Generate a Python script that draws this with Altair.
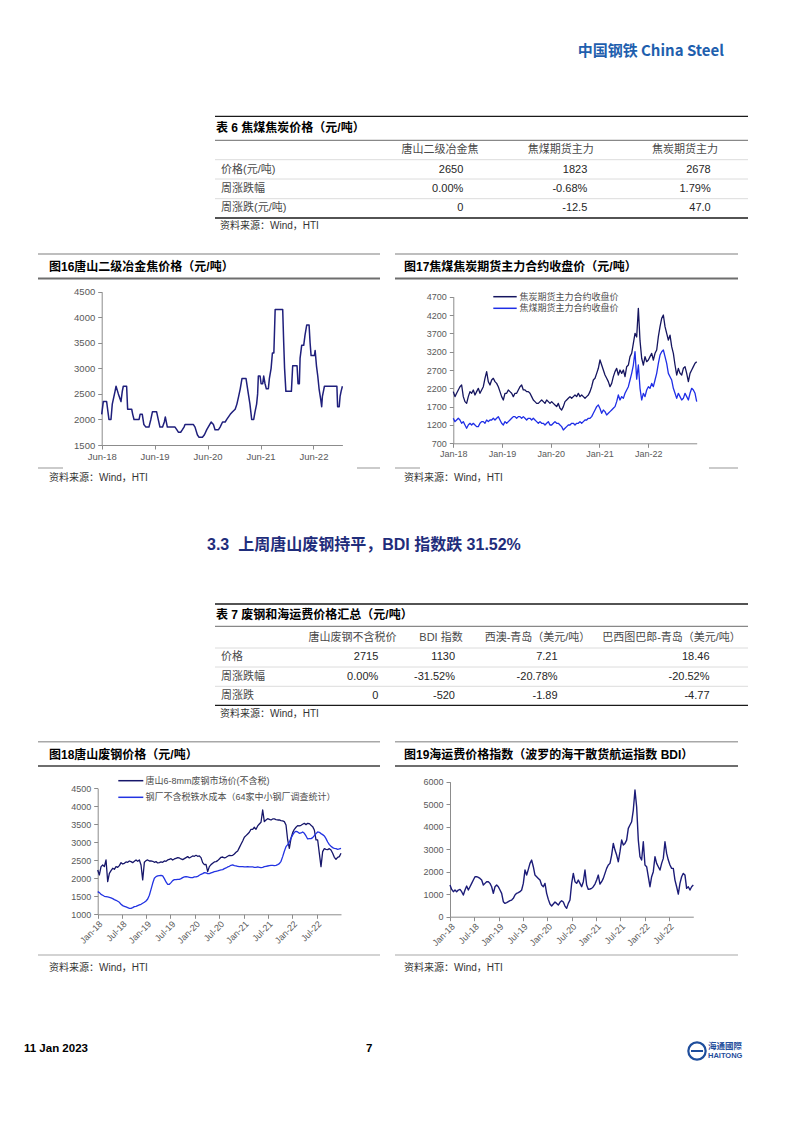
import altair as alt
import pandas as pd

W, H, OFF = 786, 1116, 8
FONT = "Liberation Sans, Noto Sans CJK SC"

# ---------------- data ----------------
# Table 6
t6_cols = ["唐山二级冶金焦", "焦煤期货主力", "焦炭期货主力"]
t6_rows = ["价格(元/吨)", "周涨跌幅", "周涨跌(元/吨)"]
t6_vals = [["2650", "1823", "2678"], ["0.00%", "-0.68%", "1.79%"], ["0", "-12.5", "47.0"]]

# Table 7
t7_cols = ["唐山废钢不含税价", "BDI 指数", "西澳-青岛（美元/吨）", "巴西图巴郎-青岛（美元/吨）"]
t7_rows = ["价格", "周涨跌幅", "周涨跌"]
t7_vals = [["2715", "1130", "7.21", "18.46"],
           ["0.00%", "-31.52%", "-20.78%", "-20.52%"],
           ["0", "-520", "-1.89", "-4.77"]]

# Fig 16: Tangshan grade-2 met coke price (step series)
c16_dates = ["2018-06-01", "2018-06-12", "2018-07-05", "2018-07-21", "2018-08-04", "2018-08-13", "2018-09-01",
             "2018-09-08", "2018-09-24", "2018-10-12", "2018-10-21", "2018-10-28", "2018-11-20", "2018-11-27",
             "2018-12-25", "2019-01-01", "2019-01-10", "2019-02-14", "2019-02-21", "2019-03-08", "2019-03-19",
             "2019-04-02", "2019-04-23", "2019-05-06", "2019-05-17", "2019-06-15", "2019-06-26", "2019-07-08",
             "2019-07-26", "2019-08-07", "2019-08-14", "2019-08-28", "2019-10-20", "2019-11-01", "2019-11-12",
             "2019-11-28", "2019-12-10", "2019-12-21", "2019-12-28", "2020-02-24", "2020-03-06", "2020-03-22",
             "2020-04-03", "2020-04-26", "2020-05-10", "2020-05-26", "2020-06-25", "2020-07-11", "2020-07-22",
             "2020-08-15", "2020-08-26", "2020-09-12", "2020-09-30", "2020-10-11", "2020-11-04", "2020-11-20",
             "2020-12-08", "2020-12-20", "2021-01-01", "2021-01-12", "2021-01-24", "2021-02-21", "2021-03-09",
             "2021-03-20", "2021-04-01", "2021-04-15", "2021-04-24", "2021-05-05", "2021-05-12", "2021-05-17",
             "2021-05-29", "2021-06-05", "2021-06-16", "2021-06-23", "2021-07-02", "2021-07-11", "2021-07-25",
             "2021-08-01", "2021-08-13", "2021-08-22", "2021-09-01", "2021-09-10", "2021-11-01", "2021-11-08",
             "2021-11-14", "2021-11-23", "2021-12-31", "2022-01-09", "2022-02-08", "2022-02-15", "2022-02-24",
             "2022-03-01", "2022-03-12", "2022-03-26", "2022-04-04", "2022-04-16", "2022-05-02", "2022-05-09",
             "2022-05-16", "2022-06-08", "2022-06-13", "2022-06-22", "2022-07-01", "2022-07-10", "2022-07-21",
             "2022-07-28", "2022-08-02", "2022-08-09", "2022-08-16", "2022-11-10", "2022-11-15", "2022-11-26",
             "2022-12-02", "2022-12-09", "2022-12-18"]
c16_vals = [2100, 2350, 2350, 2000, 2000, 2300, 2550, 2650, 2500, 2350, 2550, 2650, 2650, 2200, 2200, 2100, 2000,
            2000, 2100, 2100, 1900, 1850, 1850, 2000, 2150, 2150, 2000, 1850, 1850, 1950, 2050, 1850, 1850, 1800,
            1750, 1750, 1800, 1850, 1900, 1900, 1850, 1700, 1650, 1650, 1700, 1800, 1950, 1900, 1800, 1800, 1850,
            1950, 1950, 2000, 2100, 2150, 2200, 2300, 2450, 2600, 2800, 2800, 2500, 2300, 2000, 2000, 2150, 2300,
            2500, 2850, 2850, 2700, 2700, 2850, 2700, 2600, 2600, 2800, 3000, 3300, 3300, 4150, 4150, 3500, 3000,
            2550, 2550, 3050, 3050, 2700, 2700, 3200, 3450, 3450, 3650, 3850, 3850, 3500, 3250, 3250, 3350, 3050,
            2850, 2600, 2400, 2250, 2450, 2550, 2650, 2650, 2250, 2250, 2450, 2550, 2650]

# Fig 17: futures closing prices, one reading every 12.5 days from 2018-01-01
c17_start = "2018-01-01"
c17_names = ["焦炭期货主力合约收盘价", "焦煤期货主力合约收盘价"]
c17_coke = [2110, 1973, 2064, 2155, 2245, 2290, 1973, 1836, 1790, 1973,
            2110, 2064, 2155, 2018, 2110, 2200, 2064, 2155, 2245, 2473,
            2655, 2382, 2290, 2427, 2473, 2382, 2336, 2245, 2110, 1973,
            1882, 2064, 2064, 2155, 2110, 2064, 1973, 2064, 2064, 2155,
            2245, 2290, 2155, 2155, 2110, 2110, 2064, 1973, 1882, 1836,
            1790, 1790, 1836, 1882, 1836, 1790, 1882, 1836, 1790, 1836,
            1790, 1745, 1700, 1790, 1655, 1609, 1700, 1836, 1882, 1927,
            1973, 1927, 1973, 2018, 1973, 2064, 1973, 2018, 1973, 1927,
            1973, 2018, 2110, 2245, 2427, 2473, 2609, 2746, 2973, 2836,
            2700, 2564, 2473, 2382, 2245, 2336, 2518, 2655, 2746, 2564,
            2700, 2609, 2700, 2518, 2791, 2836, 3064, 3155, 3427, 3700,
            3600, 4382, 3500, 3020, 2836, 3064, 2927, 2973, 3064, 3155,
            2973, 3155, 3245, 3609, 3882, 4109, 4200, 3882, 3700, 3518,
            3650, 3336, 3155, 2836, 2564, 2745, 2609, 2564, 2746, 2791,
            2609, 2382, 2609, 2700, 2791, 2882, 2927]
c17_coal = [1382, 1291, 1336, 1382, 1336, 1245, 1291, 1200, 1109, 1200,
            1245, 1200, 1245, 1200, 1155, 1155, 1245, 1291, 1291, 1245,
            1336, 1291, 1336, 1336, 1382, 1336, 1382, 1427, 1336, 1245,
            1200, 1291, 1245, 1291, 1336, 1382, 1427, 1427, 1382, 1427,
            1427, 1382, 1427, 1382, 1336, 1382, 1382, 1336, 1382, 1336,
            1291, 1245, 1291, 1245, 1245, 1200, 1245, 1291, 1200, 1200,
            1245, 1291, 1245, 1245, 1200, 1155, 1064, 1109, 1155, 1200,
            1200, 1245, 1245, 1200, 1245, 1245, 1291, 1245, 1291, 1336,
            1336, 1382, 1382, 1427, 1518, 1609, 1700, 1745, 1650, 1518,
            1609, 1564, 1473, 1518, 1564, 1609, 1655, 1700, 1836, 2018,
            1882, 1973, 1927, 2064, 2155, 2245, 2427, 2609, 2836, 3200,
            2450, 2836, 2200, 1882, 2064, 1973, 2155, 2245, 2200, 2336,
            2245, 2427, 2609, 2882, 3109, 3200, 3245, 3064, 2882, 2609,
            2518, 2427, 2200, 2064, 1927, 2064, 1973, 1882, 1927, 2064,
            1973, 1882, 2064, 2200, 2155, 2064, 1836]

# Fig 18: scrap price vs hot-metal cost
c18_start = "2018-01-01"
c18_names = ["唐山6-8mm废钢市场价(不含税)", "钢厂不含税铁水成本（64家中小钢厂调查统计）"]
c18_scrap = [2231, 2092, 2324, 2370, 2324, 2509, 1907, 2139, 2213, 2278,
             2250, 2324, 2305, 2352, 2435, 2398, 2417, 2454, 2444, 2481,
             2463, 2435, 2472, 2509, 2472, 2509, 2370, 1954, 2444, 2491,
             2509, 2481, 2481, 2472, 2444, 2463, 2426, 2435, 2454, 2444,
             2481, 2472, 2509, 2528, 2546, 2509, 2537, 2555, 2574, 2565,
             2537, 2518, 2546, 2574, 2602, 2565, 2592, 2620, 2611, 2639,
             2611, 2620, 2574, 2435, 2380, 2389, 2185, 2324, 2380, 2417,
             2454, 2463, 2491, 2537, 2583, 2592, 2565, 2583, 2611, 2639,
             2630, 2639, 2676, 2722, 2759, 2852, 2944, 3037, 3139, 3185,
             3231, 3278, 3361, 3361, 3417, 3361, 3454, 3509, 3556, 3898,
             3574, 3620, 3657, 3639, 3620, 3648, 3648, 3630, 3620, 3620,
             3602, 3593, 3574, 3481, 3065, 2833, 3111, 3268, 3361, 3417,
             3463, 3454, 3472, 3500, 3528, 3491, 3528, 3518, 3472, 3435,
             3342, 3065, 3065, 2694, 2324, 2741, 2824, 2805, 2796, 2824,
             2787, 2694, 2583, 2528, 2583, 2602, 2694]
c18_cost = [1630, 1602, 1555, 1528, 1500, 1491, 1481, 1472, 1454, 1435,
            1407, 1389, 1361, 1333, 1278, 1241, 1222, 1204, 1185, 1167,
            1167, 1185, 1213, 1222, 1241, 1259, 1278, 1306, 1333, 1370,
            1426, 1528, 1694, 1861, 2000, 2046, 2065, 2074, 2083, 2065,
            1991, 1898, 1833, 1833, 1880, 1935, 1963, 1963, 1972, 1972,
            1991, 2018, 2037, 2046, 2037, 2028, 2018, 2018, 2037, 2037,
            2055, 2083, 2111, 2129, 2157, 2148, 2129, 2129, 2148, 2167,
            2185, 2194, 2204, 2222, 2231, 2241, 2268, 2287, 2315, 2333,
            2361, 2370, 2352, 2342, 2333, 2324, 2324, 2324, 2315, 2315,
            2324, 2315, 2315, 2315, 2305, 2305, 2315, 2305, 2296, 2305,
            2324, 2333, 2342, 2352, 2361, 2361, 2352, 2361, 2380, 2407,
            2472, 2602, 2750, 2880, 2935, 3009, 3111, 3204, 3278, 3305,
            3287, 3250, 3259, 3287, 3250, 3176, 3093, 3102, 3102, 3130,
            3185, 3241, 3287, 3278, 3241, 3213, 3176, 3102, 3009, 2935,
            2889, 2852, 2833, 2824, 2805, 2815, 2833]

# Fig 19: BDI
c19_start = "2018-01-01"
c19_bdi = [1407, 1214, 1111, 1185, 1111, 1185, 1214, 1111, 963, 1185,
           1363, 1185, 1333, 1481, 1629, 1777, 1777, 1748, 1703, 1629,
           1407, 1481, 1555, 1555, 1481, 1333, 1037, 1333, 1407, 1333,
           1185, 1037, 666, 592, 622, 666, 711, 740, 815, 963,
           1037, 1066, 1111, 1185, 1481, 2073, 1851, 2103, 2370, 2518,
           2222, 1851, 1777, 1703, 1629, 1407, 1333, 1481, 1037, 770,
           563, 474, 563, 652, 592, 518, 637, 711, 652, 474,
           370, 592, 740, 1481, 1925, 1555, 1481, 1629, 1481, 1333,
           1555, 2073, 1407, 1214, 1230, 1259, 1333, 1451, 1629, 1851,
           1451, 1555, 1703, 1925, 2147, 2296, 2370, 2740, 3258, 2962,
           2740, 2444, 2888, 3406, 3184, 3258, 3406, 3925, 4073, 4221,
           4740, 5628, 4888, 3406, 2666, 2518, 3332, 2296, 2222, 1777,
           1333, 1777, 2000, 2666, 2370, 2222, 2073, 2370, 2592, 3332,
           2814, 2518, 2296, 2147, 2147, 1629, 1333, 1007, 1481, 1777,
           1925, 1851, 1259, 1333, 1185, 1333, 1407]

# axis tick labels
y16_ticks = [1500, 2000, 2500, 3000, 3500, 4000, 4500]
y17_ticks = [700, 1200, 1700, 2200, 2700, 3200, 3700, 4200, 4700]
y18_ticks = [1000, 1500, 2000, 2500, 3000, 3500, 4000, 4500]
y19_ticks = [0, 1000, 2000, 3000, 4000, 5000, 6000]
x16_ticks = [(y, 6) for y in range(2018, 2023)]
x17_ticks = [(y, 1) for y in range(2018, 2023)]
x18_ticks = [(y, m) for y in range(2018, 2023) for m in (1, 7)]

NAVY16, NAVY17, BLUE17, NAVY18, BLUE18, NAVY19 = "#1f1f7c", "#15155f", "#1f2ee6", "#16166a", "#2233e2", "#1c1c78"
SOURCE = "资料来源：Wind，HTI"


# ---------------- helpers ----------------
def dt(y, m, d=1):
    return alt.DateTime(year=y, month=m, date=d)


def grid_dates(start, n):
    return pd.date_range(start=start, periods=n, freq="300h")


def text_layer(rows, align="left", bold=False, font=FONT):
    df = pd.DataFrame(rows, columns=["x", "y", "t", "s", "c"])
    df["x"] = df["x"] - OFF
    df["y"] = df["y"] - OFF
    return alt.Chart(df).mark_text(align=align, baseline="middle", font=font,
                                   fontWeight="bold" if bold else "normal").encode(
        x=alt.X("x:Q", scale=None, axis=None),
        y=alt.Y("y:Q", scale=None, axis=None),
        text="t:N",
        size=alt.Size("s:Q", scale=None, legend=None),
        color=alt.Color("c:N", scale=None, legend=None),
    )


AXBASE = dict(grid=False, title=None, domainColor="#8c8c8c", domainWidth=1, tickColor="#8c8c8c",
              tickSize=4, tickWidth=1, labelColor="#595959", labelFont="Liberation Sans",
              labelOverlap=False)


def line_layer(df, xdom, xr, yb, yt, ydom, xticks, yticks, fs, angle=0, sw=1.3):
    xaxis = alt.Axis(orient="bottom", offset=(yb - OFF) - H, values=[dt(y, m) for y, m in xticks],
                     format="%b-%y", labelFlush=False, labelAngle=angle, labelFontSize=fs,
                     labelPadding=1 if angle else 2, **AXBASE)
    yaxis = alt.Axis(orient="left", offset=-(xr[0] - OFF), values=yticks, format="d", labelFontSize=fs,
                     labelPadding=3, **AXBASE)
    return alt.Chart(df).mark_line(strokeWidth=sw, strokeJoin="round").encode(
        x=alt.X("d:T", scale=alt.Scale(domain=xdom, range=[xr[0] - OFF, xr[1] - OFF], nice=False),
                axis=xaxis),
        y=alt.Y("v:Q", scale=alt.Scale(domain=ydom, range=[yb - OFF, yt - OFF], nice=False, zero=False),
                axis=yaxis),
        color=alt.Color("c:N", scale=None, legend=None),
        detail="s:N",
    )


# ---------------- chart data frames ----------------
df16 = pd.DataFrame({"d": pd.to_datetime(c16_dates), "v": c16_vals, "s": "c16", "c": NAVY16})
df17 = pd.concat([
    pd.DataFrame({"d": grid_dates(c17_start, len(c17_coke)), "v": c17_coke, "s": c17_names[0], "c": NAVY17}),
    pd.DataFrame({"d": grid_dates(c17_start, len(c17_coal)), "v": c17_coal, "s": c17_names[1], "c": BLUE17}),
])
df18 = pd.concat([
    pd.DataFrame({"d": grid_dates(c18_start, len(c18_scrap)), "v": c18_scrap, "s": c18_names[0], "c": NAVY18}),
    pd.DataFrame({"d": grid_dates(c18_start, len(c18_cost)), "v": c18_cost, "s": c18_names[1], "c": BLUE18}),
])
df19 = pd.DataFrame({"d": grid_dates(c19_start, len(c19_bdi)), "v": c19_bdi, "s": "bdi", "c": NAVY19})

ch16 = line_layer(df16, [dt(2018, 6, 1), dt(2022, 12, 18)], (101.7, 342.4), 445, 291.7, [1500, 4500],
                  x16_ticks, y16_ticks, 9.5, sw=1.5)
ch17 = line_layer(df17, [dt(2018, 1, 1), dt(2022, 12, 31)], (453.3, 696.7), 443.3, 296.7, [700, 4700],
                  x17_ticks, y17_ticks, 9, sw=1.3)
ch18 = line_layer(df18, [dt(2018, 1, 1), dt(2022, 12, 31)], (97.7, 341.0), 914.3, 788.3, [1000, 4500],
                  x18_ticks, y18_ticks, 9, angle=-45, sw=1.3)
ch19 = line_layer(df19, [dt(2018, 1, 1), dt(2022, 12, 31)], (450.0, 693.3), 916.7, 781.7, [0, 6000],
                  x18_ticks, y19_ticks, 9, angle=-45, sw=1.4)

# ---------------- page decoration (rules) ----------------
DARK, MID, LIGHT, FRAME, TITLE_RULE = "#1a1a1a", "#6b6b6b", "#dcdcdc", "#a8a8a8", "#6e6e6e"
rules = []
for ys in ([116.3, 140.3, 159.7, 179.0, 198.7, 218.0], [604.0, 626.3, 648.0, 667.0, 686.3, 705.3]):
    styles = [(DARK, 1.3), (MID, 1.0), (LIGHT, 1.0), (LIGHT, 1.0), (LIGHT, 1.0), (DARK, 1.3)]
    for yy, (c, w) in zip(ys, styles):
        rules.append((215, 748, yy, c, w))
for x1, x2 in ((38, 380), (395, 738)):
    rules.append((x1, x2, 254.0, FRAME, 1.5))
    rules.append((x1, x2, 278.5, TITLE_RULE, 2.0))
    rules.append((x1, x2, 741.7, FRAME, 1.5))
    rules.append((x1, x2, 766.0, TITLE_RULE, 2.0))
    rules.append((x1, x2, 955.0, FRAME, 1.2))
rules += [(38, 63, 468.0, FRAME, 1.2), (357, 380, 468.0, FRAME, 1.2),
          (395, 420, 468.0, FRAME, 1.2), (709, 738, 468.0, FRAME, 1.2)]
# manual legends
rules += [(493.3, 516.7, 296.7, NAVY17, 1.5), (493.3, 516.7, 308.3, BLUE17, 1.5),
          (118.3, 143.3, 780.7, NAVY18, 1.5), (118.3, 143.3, 797.3, BLUE18, 1.5)]
rdf = pd.DataFrame(rules, columns=["x1", "x2", "y", "c", "w"])
rdf[["x1", "x2", "y"]] = rdf[["x1", "x2", "y"]] - OFF
rule_layer = alt.Chart(rdf).mark_rule().encode(
    x=alt.X("x1:Q", scale=None, axis=None), x2="x2:Q",
    y=alt.Y("y:Q", scale=None, axis=None),
    color=alt.Color("c:N", scale=None, legend=None),
    strokeWidth=alt.StrokeWidth("w:Q", scale=None, legend=None),
)

# ---------------- texts ----------------
LBL, NUM, SRC = "#4a4a4a", "#262626", "#333333"
bold_left = [
    (216, 128.0, "表 6 焦煤焦炭价格（元/吨）", 12, "#000000"),
    (49, 266.7, "图16唐山二级冶金焦价格（元/吨）", 12, "#000000"),
    (404, 266.7, "图17焦煤焦炭期货主力合约收盘价（元/吨）", 12, "#000000"),
    (207, 545.0, "3.3\u00a0\u00a0上周唐山废钢持平，BDI 指数跌 31.52%", 16, "#1f2d7b"),
    (216, 614.7, "表 7 废钢和海运费价格汇总（元/吨）", 12, "#000000"),
    (49, 755.0, "图18唐山废钢价格（元/吨）", 12, "#000000"),
    (404, 755.0, "图19海运费价格指数（波罗的海干散货航运指数 BDI）", 12, "#000000"),
    (24, 1049.0, "11 Jan 2023", 11.5, "#000000"),
    (366, 1049.0, "7", 11.5, "#000000"),
    (708, 1046.0, "海通國際", 8.5, "#1f4e9c"),
    (708, 1056.0, "HAITONG", 7.5, "#1f4e9c"),
]
bold_right = [(724, 51.0, "中国钢铁 China Steel", 15, "#1f5fae")]

normal_left = []
T6_ROW_Y = [169.7, 189.0, 208.0]
T7_ROW_Y = [657.3, 677.0, 695.7]
for lab, yy in zip(t6_rows, T6_ROW_Y):
    normal_left.append((221, yy, lab, 11, LBL))
for lab, yy in zip(t7_rows, T7_ROW_Y):
    normal_left.append((221, yy, lab, 11, LBL))
for xx, yy in ((220, 226.3), (220, 713.7), (49, 478.0), (404, 478.0), (49, 967.7), (404, 967.7)):
    normal_left.append((xx, yy, SOURCE, 10, SRC))
normal_left += [(519.5, 296.7, c17_names[0], 9, "#4d4d4d"), (519.5, 308.3, c17_names[1], 9, "#4d4d4d"),
                (145.5, 780.7, c18_names[0], 9, "#4d4d4d"), (145.5, 797.3, c18_names[1], 9, "#4d4d4d")]

T6_RIGHT = [463.3, 587.3, 710.7]
T6_HEAD_X = [440.0, 560.7, 685.0]
T7_RIGHT = [378.3, 455.0, 557.6, 709.5]
T7_HEAD_X = [352.5, 441.0, 537.5, 671.5]
normal_right, normal_center = [], []
for r, yy in enumerate(T6_ROW_Y):
    for c, xx in enumerate(T6_RIGHT):
        normal_right.append((xx, yy, t6_vals[r][c], 11, NUM))
for r, yy in enumerate(T7_ROW_Y):
    for c, xx in enumerate(T7_RIGHT):
        normal_right.append((xx, yy, t7_vals[r][c], 11, NUM))
for lab, xx in zip(t6_cols, T6_HEAD_X):
    normal_center.append((xx, 149.7, lab, 11, LBL))
for lab, xx in zip(t7_cols, T7_HEAD_X):
    normal_center.append((xx, 638.0, lab, 11, LBL))

logo = alt.Chart(pd.DataFrame({"x": [697 - OFF], "y": [1051 - OFF]})).mark_point(
    shape="circle", filled=False, size=300, strokeWidth=2.2, color="#1f4e9c", opacity=1).encode(
    x=alt.X("x:Q", scale=None, axis=None), y=alt.Y("y:Q", scale=None, axis=None))
logo_bar = alt.Chart(pd.DataFrame({"x": [691 - OFF], "x2": [703 - OFF], "y": [1051 - OFF]})).mark_rule(
    color="#1f4e9c", strokeWidth=2).encode(
    x=alt.X("x:Q", scale=None, axis=None), x2="x2:Q", y=alt.Y("y:Q", scale=None, axis=None))

layers = [
    rule_layer,
    text_layer(bold_left, "left", True),
    text_layer(bold_right, "right", True, font="Noto Sans CJK SC"),
    text_layer(normal_left, "left"),
    text_layer(normal_right, "right"),
    text_layer(normal_center, "center"),
    logo, logo_bar,
    ch16, ch17, ch18, ch19,
]

chart = alt.layer(*layers).resolve_scale(
    x="independent", y="independent"
).properties(
    width=W, height=H, padding=0, autosize=alt.AutoSizeParams(type="none"), background="white"
).configure_view(stroke=None)

chart.save("out.html", embed_options={"renderer": "svg", "actions": False})
